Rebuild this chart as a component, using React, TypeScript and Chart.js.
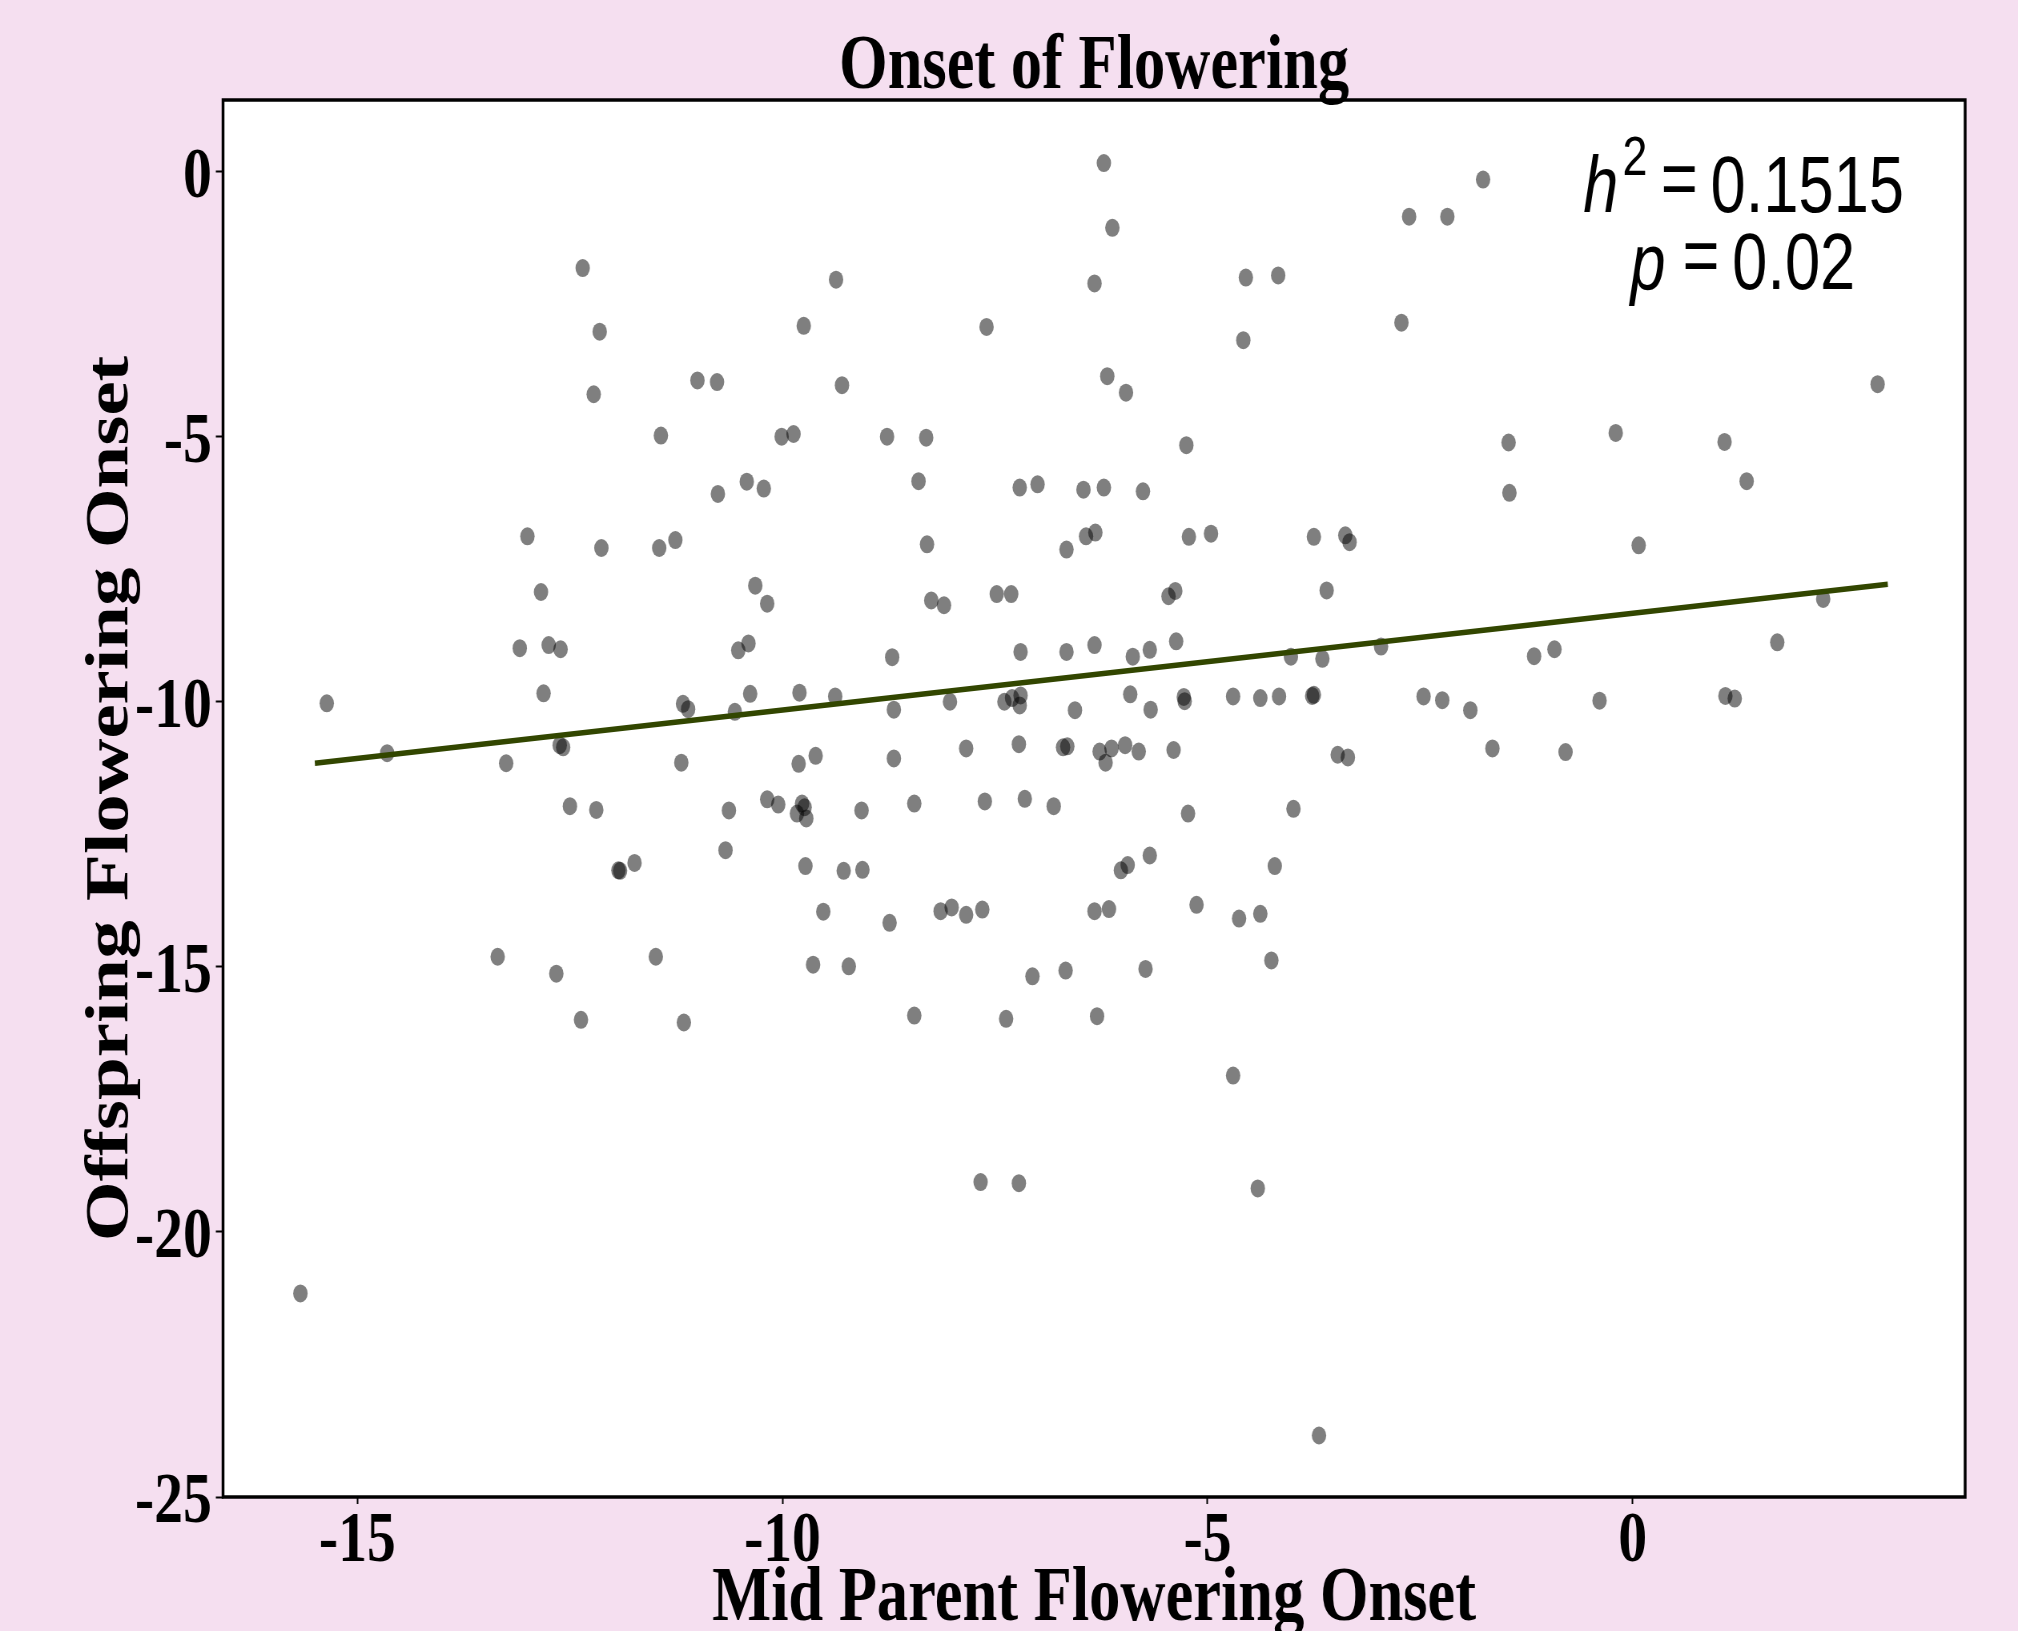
import React, { useEffect, useRef } from 'react';
import { Chart, registerables } from 'chart.js';

Chart.register(...registerables);

// ---- data ----
const midParent = [
  -15.67, -15.36, -14.65, -13.35, -13.25, -13.09, -13.0, -12.84, -12.81, -12.75,
  -12.66, -12.61, -12.62, -12.58, -12.5, -12.37, -12.35, -12.22, -12.19, -12.15,
  -12.13, -11.93, -11.91, -11.74, -11.49, -11.43, -11.45, -11.26, -11.19, -11.16,
  -11.17, -11.11, -11.0, -10.77, -10.76, -10.67, -10.63, -10.56, -10.52, -10.42,
  -10.4, -10.38, -10.32, -10.22, -10.18, -10.18, -10.05, -10.01, -9.87, -9.8,
  -9.81, -9.83, -9.77, -9.72, -9.74, -9.73, -9.75, -9.64, -9.61, -9.52,
  -9.38, -9.37, -9.3, -9.28, -9.22, -9.06, -9.07, -8.77, -8.74, -8.71,
  -8.69, -8.69, -8.45, -8.45, -8.4, -8.31, -8.3, -8.25, -8.14, -8.1,
  -8.03, -8.01, -7.84, -7.84, -7.67, -7.65, -7.62, -7.6, -7.48, -7.37,
  -7.31, -7.39, -7.3, -7.2, -7.21, -7.21, -7.2, -7.22, -7.22, -7.15,
  -7.06, -7.0, -6.81, -6.7, -6.65, -6.66, -6.66, -6.67, -6.56, -6.46,
  -6.43, -6.32, -6.33, -6.33, -6.33, -6.3, -6.27, -6.22, -6.22, -6.2,
  -6.18, -6.16, -6.13, -6.12, -6.02, -5.96, -5.97, -5.94, -5.91, -5.88,
  -5.81, -5.76, -5.73, -5.68, -5.68, -5.67, -5.46, -5.38, -5.37, -5.4,
  -5.28, -5.27, -5.25, -5.23, -5.22, -5.13, -4.96, -4.7, -4.7, -4.63,
  -4.58, -4.55, -4.38, -4.41, -4.38, -4.25, -4.21, -4.17, -4.16, -4.02,
  -3.99, -3.77, -3.75, -3.75, -3.69, -3.65, -3.6, -3.47, -3.38, -3.33,
  -3.35, -2.96, -2.72, -2.63, -2.46, -2.24, -2.18, -1.91, -1.76, -1.65,
  -1.46, -1.45, -1.16, -0.92, -0.79, -0.39, -0.2, 0.07, 1.08, 1.09,
  1.2, 1.34, 1.7, 2.24, 2.88,
];

const offspring = [
  -21.16, -10.03, -10.97, -14.81, -11.16, -8.99, -6.88, -7.93, -9.84, -8.93,
  -15.13, -9.01, -10.82, -10.86, -11.97, -16.0, -1.82, -4.2, -12.04, -3.02,
  -7.1, -13.18, -13.19, -13.04, -14.81, -4.98, -7.1, -6.95, -11.15, -16.05,
  -10.04, -10.14, -3.94, -3.97, -6.08, -12.8, -12.05, -10.19, -9.03, -5.85,
  -8.9, -9.85, -7.81, -5.98, -8.15, -11.84, -11.94, -5.0, -4.95, -9.83,
  -11.17, -12.11, -11.92, -12.2, -11.99, -13.1, -2.91, -14.96, -11.02, -13.96,
  -9.9, -2.04, -4.03, -13.19, -14.99, -13.17, -12.05, -5.0, -14.17, -9.16,
  -10.15, -11.07, -15.92, -11.92, -5.84, -5.02, -7.03, -8.09, -13.95, -8.18,
  -10.0, -13.88, -14.02, -10.88, -19.06, -13.92, -11.88, -2.93, -7.97, -15.98,
  -7.97, -10.0, -9.93, -9.88, -10.07, -5.96, -9.06, -10.8, -19.08, -11.83,
  -15.18, -5.9, -11.97, -10.86, -10.84, -7.13, -9.06, -15.07, -10.16, -6.0,
  -6.88, -6.81, -2.11, -8.93, -13.95, -15.93, -10.94, -5.96, 0.16, -11.15,
  -3.86, -13.91, -10.88, -1.06, -13.18, -4.17, -10.82, -13.08, -9.86, -9.15,
  -10.94, -6.03, -15.04, -12.9, -9.02, -10.15, -8.01, -7.91, -8.86, -10.91,
  -9.91, -9.99, -5.16, -12.11, -6.89, -13.83, -6.83, -17.05, -9.9, -14.09,
  -3.18, -2.0, -9.93, -19.18, -14.0, -14.88, -13.1, -1.96, -9.9, -9.15,
  -12.02, -9.89, -9.87, -6.89, -23.84, -9.19, -7.9, -11.0, -6.86, -6.99,
  -11.05, -8.96, -2.85, -0.85, -9.9, -9.97, -0.85, -10.16, -0.15, -10.88,
  -5.11, -6.06, -9.14, -9.01, -10.95, -9.98, -4.93, -7.05, -5.1, -9.89,
  -9.94, -5.84, -8.88, -8.06, -4.01,
];

const fitX = [-15.5, 3.0];
const fitY = [-11.16, -7.785];

const xTicks = [-15, -10, -5, 0];
const yTicks = [0, -5, -10, -15, -20, -25];

const titleText = 'Onset of Flowering';
const xLabel = 'Mid Parent Flowering Onset';
const yLabel = 'Offspring Flowering Onset';
const h2Value = '0.1515';
const pValue = '0.02';

// ---- geometry / style ----
const FULL_W = 2018;
const FULL_H = 1631;
const CANVAS_W = 2520; // drawn wide, then squeezed horizontally like the reference
const PINK = '#f5dff0';
const SERIF = '"Liberation Serif", "Times New Roman", serif';
const SANS = '"Liberation Sans", Arial, sans-serif';

const TITLE_SIZE = 78;
const XLABEL_SIZE = 78;
const YLABEL_SIZE = 77;
const TICK_SIZE = 72;

// where the texts sit (canvas units; y is unscaled)
const AREA_TOP = 100;
const AREA_BOTTOM = 1497;
const Y_AXIS_W = 278.5;
const TITLE_BASELINE = 88;
const XLABEL_BASELINE = 1620;
const YLABEL_BASELINE_X = 159;
const XTICK_BASELINE = 1561;
const X_TICK_LEN = 7;
const Y_TICK_LEN = 9;

function measure(font: string, text: string) {
  const c = document.createElement('canvas').getContext('2d') as CanvasRenderingContext2D;
  c.font = font;
  c.textBaseline = 'middle';
  return c.measureText(text);
}

const decor = {
  id: 'decor',
  beforeDraw(chart: any) {
    const { ctx, chartArea: a, width, height } = chart;
    ctx.save();
    ctx.fillStyle = PINK;
    ctx.fillRect(0, 0, width, height);
    ctx.fillStyle = '#ffffff';
    ctx.fillRect(a.left, a.top, a.right - a.left, a.bottom - a.top);
    ctx.restore();
  },
  afterDatasetsDraw(chart: any) {
    const { ctx, chartArea: a } = chart;
    ctx.save();
    ctx.strokeStyle = '#000';
    ctx.lineWidth = 3.5;
    ctx.strokeRect(a.left, a.top, a.right - a.left, a.bottom - a.top);
    ctx.restore();
  },
  afterDraw(chart: any) {
    const { ctx } = chart;
    const put = (text: string, inkLeft: number, baseline: number, font: string) => {
      ctx.font = font;
      const m = ctx.measureText(text);
      ctx.fillText(text, inkLeft + m.actualBoundingBoxLeft, baseline);
    };
    ctx.save();
    ctx.fillStyle = '#000';
    ctx.textAlign = 'left';
    ctx.textBaseline = 'alphabetic';
    put('h', 1978, 212, `italic 79px ${SANS}`);
    put('2', 2028, 175, `56px ${SANS}`);
    put('=', 2077, 205, `79px ${SANS}`);
    put(h2Value, 2139, 212, `79px ${SANS}`);
    put('p', 2034, 289, `italic 79px ${SANS}`);
    put('=', 2104, 282, `79px ${SANS}`);
    put(pValue, 2166, 289, `79px ${SANS}`);
    ctx.restore();
  },
};

export default function App() {
  const ref = useRef<HTMLCanvasElement>(null);

  useEffect(() => {
    const canvas = ref.current;
    if (!canvas) return;
    const points = midParent.map((x, i) => ({ x, y: offspring[i] }));
    const fit = fitX.map((x, i) => ({ x, y: fitY[i] }));

    // distance from a 'middle' text anchor down to the alphabetic baseline
    const off = (size: number) => measure(`bold ${size}px ${SERIF}`, 'H').actualBoundingBoxDescent;
    const m0 = measure(`bold ${TICK_SIZE}px ${SERIF}`, '0');
    const digitCenter = (m0.actualBoundingBoxDescent - m0.actualBoundingBoxAscent) / 2;

    const titleCenter = TITLE_BASELINE - off(TITLE_SIZE);
    const titlePadTop = titleCenter - TITLE_SIZE / 2;
    const titlePadBottom = AREA_TOP - titlePadTop - TITLE_SIZE;

    const xLabelCenter = XLABEL_BASELINE - off(XLABEL_SIZE);
    const xLabelPadBottom = FULL_H - XLABEL_SIZE / 2 - xLabelCenter;

    const yLabelCenter = YLABEL_BASELINE_X - off(YLABEL_SIZE);
    const yLabelPadTop = yLabelCenter - YLABEL_SIZE / 2;

    const xTickCenter = XTICK_BASELINE - off(TICK_SIZE);
    const xTickPad = xTickCenter - AREA_BOTTOM - X_TICK_LEN - TICK_SIZE / 2;

    const yTickLabelOffset = 1.5 - digitCenter;

    const tickFont = { family: SERIF, size: TICK_SIZE, weight: 'bold' as const, lineHeight: 1 };

    const chart = new Chart(canvas, {
      type: 'scatter',
      data: {
        datasets: [
          {
            label: 'fit',
            data: fit,
            showLine: true,
            borderColor: '#324600',
            borderWidth: 5.5,
            pointRadius: 0,
            fill: false,
            order: 0,
          },
          {
            label: 'families',
            data: points,
            backgroundColor: 'rgba(0,0,0,0.5)',
            borderWidth: 0,
            pointRadius: 9,
            pointHoverRadius: 9,
            order: 1,
          },
        ],
      },
      options: {
        responsive: false,
        maintainAspectRatio: false,
        devicePixelRatio: 1,
        animation: false,
        events: [],
        layout: { padding: { left: 0, right: 66, top: 0, bottom: 0 } },
        plugins: {
          legend: { display: false },
          tooltip: { enabled: false },
          title: {
            display: true,
            text: titleText,
            color: '#000',
            fullSize: false,
            font: { family: SERIF, size: TITLE_SIZE, weight: 'bold', lineHeight: 1 },
            padding: { top: titlePadTop, bottom: titlePadBottom },
          },
        },
        scales: {
          x: {
            type: 'linear',
            position: 'bottom',
            min: -16.58,
            max: 3.91,
            afterBuildTicks: (s: any) => {
              s.ticks = xTicks.map((v) => ({ value: v }));
            },
            afterFit: (s: any) => {
              s.height = FULL_H - AREA_BOTTOM;
            },
            grid: {
              display: true,
              drawOnChartArea: false,
              drawTicks: true,
              tickLength: X_TICK_LEN,
              tickColor: '#000',
              tickWidth: 2,
              color: '#000',
            },
            border: { display: false },
            ticks: {
              color: '#000',
              font: tickFont,
              padding: xTickPad,
              maxRotation: 0,
              autoSkip: false,
              callback: (v: any) => String(v),
            },
            title: {
              display: true,
              text: xLabel,
              color: '#000',
              font: { family: SERIF, size: XLABEL_SIZE, weight: 'bold', lineHeight: 1 },
              padding: { top: 0, bottom: xLabelPadBottom },
            },
          },
          y: {
            type: 'linear',
            position: 'left',
            min: -25,
            max: 1.35,
            afterBuildTicks: (s: any) => {
              s.ticks = yTicks.map((v) => ({ value: v }));
            },
            afterFit: (s: any) => {
              s.width = Y_AXIS_W;
            },
            grid: {
              display: true,
              drawOnChartArea: false,
              drawTicks: true,
              tickLength: Y_TICK_LEN,
              tickColor: '#000',
              tickWidth: 2,
              color: '#000',
            },
            border: { display: false },
            ticks: {
              color: '#000',
              font: tickFont,
              padding: 5,
              labelOffset: yTickLabelOffset,
              autoSkip: false,
              callback: (v: any) => String(v),
            },
            title: {
              display: true,
              text: yLabel,
              color: '#000',
              font: { family: SERIF, size: YLABEL_SIZE, weight: 'bold', lineHeight: 1 },
              padding: { top: yLabelPadTop, bottom: 0 },
            },
          },
        },
      },
      plugins: [decor],
    } as any);

    return () => chart.destroy();
  }, []);

  return (
    <div
      style={{
        position: 'fixed',
        left: 0,
        top: 0,
        width: FULL_W,
        height: FULL_H,
        background: PINK,
        overflow: 'hidden',
      }}
    >
      <canvas
        ref={ref}
        width={CANVAS_W}
        height={FULL_H}
        style={{ display: 'block', width: `${FULL_W}px`, height: `${FULL_H}px` }}
      />
    </div>
  );
}
